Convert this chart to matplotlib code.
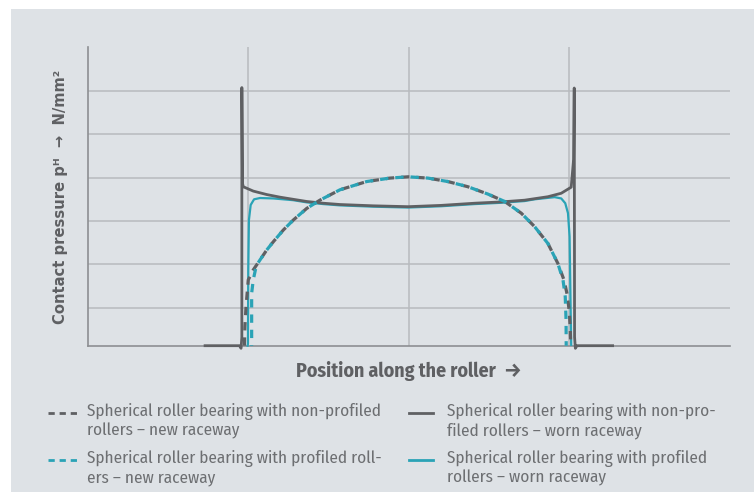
import matplotlib
matplotlib.use("Agg")
import matplotlib.pyplot as plt
from matplotlib.lines import Line2D
from matplotlib.patches import Rectangle

GRAY = "#5f6063"
TEAL = "#2aa3b6"
TEXT = "#6d6f72"
PANEL = "#dee2e6"
GRID = "#b7babe"

# worn raceway, non-profiled rollers (grey solid, edge spikes)
worn_np_x = [0.731, 0.945, 0.955, 0.960, 0.960, 0.964, 0.969, 1.031, 1.115, 1.197, 1.280,
             1.364, 1.467, 1.571, 1.778, 1.996, 2.202, 2.410, 2.575, 2.721, 2.866, 2.949,
             3.011, 3.026, 3.030, 3.032, 3.037, 3.047, 3.269]
worn_np_y = [0.0, 0.0, -0.06, 0.2, 5.96, 3.75, 3.67, 3.57, 3.49, 3.43, 3.38,
             3.33, 3.29, 3.26, 3.23, 3.21, 3.24, 3.29, 3.32, 3.36, 3.44, 3.52,
             3.66, 4.30, 5.95, 0.2, -0.06, 0.0, 0.0]

# worn raceway, profiled rollers (teal solid)
worn_p_x = [0.996, 0.998, 1.000, 1.004, 1.015, 1.036, 1.073, 1.156, 1.280, 1.364, 1.467,
            1.571, 1.778, 1.996, 2.202, 2.410, 2.575, 2.721, 2.783, 2.908, 2.949, 2.974,
            2.991, 3.001, 3.007, 3.011]
worn_p_y = [0.0, 0.05, 1.75, 2.90, 3.25, 3.38, 3.41, 3.40, 3.36, 3.31, 3.27,
            3.24, 3.21, 3.19, 3.22, 3.27, 3.30, 3.34, 3.38, 3.43, 3.40, 3.29,
            3.06, 2.52, 0.98, 0.02]

# new raceway, non-profiled rollers (grey dashed)
new_np_x = [0.976, 0.979, 0.986, 1.000, 1.031, 1.073, 1.115, 1.156, 1.218, 1.280, 1.364,
            1.446, 1.571, 1.737, 1.882, 1.996, 2.119, 2.243, 2.368, 2.493, 2.597, 2.700,
            2.783, 2.866, 2.928, 2.966, 2.985, 2.999, 3.005, 3.008]
new_np_y = [0.0, 0.44, 0.90, 1.52, 1.75, 1.98, 2.21, 2.40, 2.67, 2.90, 3.17,
            3.36, 3.60, 3.79, 3.87, 3.90, 3.87, 3.79, 3.67, 3.50, 3.33, 3.06,
            2.75, 2.36, 1.90, 1.52, 1.20, 0.80, 0.40, 0.0]

# new raceway, profiled rollers (teal dashed)
new_p_x = [1.021, 1.021, 1.031, 1.050, 1.073, 1.115, 1.156, 1.218, 1.280, 1.364, 1.446,
           1.571, 1.737, 1.882, 1.996, 2.119, 2.243, 2.368, 2.493, 2.597, 2.700, 2.783,
           2.866, 2.928, 2.960, 2.974, 2.979, 2.980]
new_p_y = [0.0, 1.21, 1.52, 1.85, 1.98, 2.21, 2.40, 2.67, 2.90, 3.17, 3.36,
           3.60, 3.79, 3.87, 3.90, 3.87, 3.79, 3.67, 3.50, 3.33, 3.06, 2.75,
           2.36, 1.90, 1.52, 1.13, 0.60, 0.0]

grid_x = [1, 2, 3]
grid_y = [0.88, 1.88, 2.88, 3.88, 4.88, 5.88]

legend_labels = [
    "Spherical roller bearing with non-profiled\nrollers – new raceway",
    "Spherical roller bearing with profiled roll-\ners – new raceway",
    "Spherical roller bearing with non-pro-\nfiled rollers – worn raceway",
    "Spherical roller bearing with profiled\nrollers – worn raceway",
]

narrow = ["Fira Sans Condensed", "DejaVu Sans"]

plt.rcParams["lines.scale_dashes"] = False

fig = plt.figure(figsize=(7.54, 4.93), dpi=100)
fig.patch.set_facecolor("white")
fig.add_artist(Rectangle((10.5 / 754, 1 / 493), 1, 483 / 493, transform=fig.transFigure,
                         facecolor=PANEL, edgecolor="none", zorder=-10))

ax = fig.add_axes([87.7 / 754, 1 - 345.7 / 493, 642.3 / 754, 298.4 / 493])
ax.set_facecolor("none")
ax.set_xlim(0, 4)
ax.set_ylim(0, 6.89)
ax.set_xticks(grid_x)
ax.set_yticks(grid_y)
ax.tick_params(length=0, labelleft=False, labelbottom=False)
ax.grid(True, color=GRID, lw=1.1)
ax.set_axisbelow(True)
for s in ["top", "right"]:
    ax.spines[s].set_visible(False)
for s in ["left", "bottom"]:
    ax.spines[s].set_color("#8d8f92")
    ax.spines[s].set_linewidth(1.2)

ax.plot(worn_p_x, worn_p_y, color=TEAL, lw=1.6, solid_joinstyle="round", zorder=3, clip_on=False)
ax.plot(worn_np_x, worn_np_y, color=GRAY, lw=2.0, solid_joinstyle="round", zorder=4, clip_on=False)
ax.plot(new_np_x, new_np_y, color=GRAY, lw=2.3, linestyle=(0, (6, 5)), zorder=5)
ax.plot(new_p_x, new_p_y, color=TEAL, lw=2.3, linestyle=(5.5, (6, 5)), zorder=6)

ax.set_ylabel("Contact pressure pᴴ  →  N/mm²", fontsize=10.6, fontweight="bold", color=GRAY,
              family="DejaVu Sans")
ax.yaxis.set_label_coords(-0.031, 0.5)
ax.set_xlabel("Position along the roller  →", fontsize=14.3, fontweight="bold", color=GRAY,
              family=narrow)
ax.xaxis.set_label_coords(0.5, -0.052)

# legend drawn by hand: handle sits on the first text line
handles = [(GRAY, (4.5, 3.5)), (TEAL, (4.5, 3.5)), (GRAY, None), (TEAL, None)]
for i, (lab, (col, ds)) in enumerate(zip(legend_labels, handles)):
    col_i, row_i = divmod(i, 2)
    y = 1 - (413 + 47 * row_i) / 493
    if ds is None:
        x0, x1, tx = 409, 433, 447
        fig.add_artist(Line2D([x0 / 754, x1 / 754], [y, y], color=col, lw=2.0))
    else:
        x0, x1, tx = 48, 77, 87
        fig.add_artist(Line2D([x0 / 754, x1 / 754], [y, y], color=col, lw=2.0,
                              linestyle=(0, ds)))
    fig.text(tx / 754, y + 10 / 493, lab, fontsize=12.4, color=TEXT, family=narrow,
             fontweight="normal", va="top", ha="left", linespacing=1.18)

fig.savefig("out.png", dpi=100)
